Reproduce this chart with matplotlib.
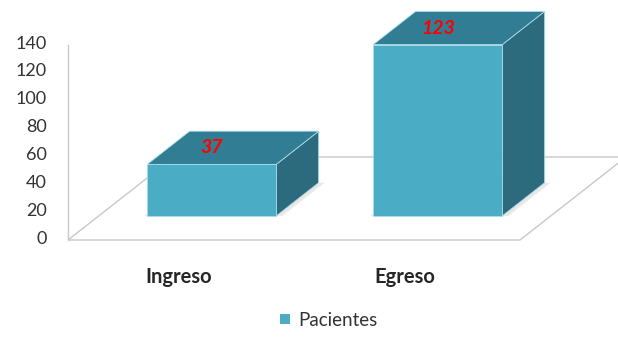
import numpy as np
import matplotlib.pyplot as plt
from matplotlib.patches import Polygon, Patch

plt.rcParams['font.family'] = ['Lato', 'DejaVu Sans']

categorias = ['Ingreso', 'Egreso']
pacientes = [37, 123]
ticks_y = [0, 20, 40, 60, 80, 100, 120, 140]
serie = 'Pacientes'

# geometria de la vista oblicua (x en px, y en unidades del eje)
px_por_unidad = 195 / 140
x0, x1 = 68, 520            # borde frontal del piso
prof_dx = 106
prof_dy = 83 / px_por_unidad
z_ini, z_fin = 0.29, 0.69   # profundidad ocupada por las barras
ancho_barra = 129

c_frente = '#4bacc6'
c_techo = '#317d93'
c_lado = '#2c6b7e'
c_borde = '#a9dbe8'
c_linea = '#c8c8c8'


def proy(x, z, v):
    return (x + z * prof_dx, v + z * prof_dy)


fig = plt.figure(figsize=(6.18, 3.38), dpi=100)
ax = fig.add_axes([0, 0, 1, 1])
ax.set_xlim(0, 618)
ax.set_ylim(-(338 - 240) / px_por_unidad, 240 / px_por_unidad)
ax.axis('off')

# piso y eje vertical
piso = [proy(x0, 0, 0), proy(x1, 0, 0), proy(x1, 1, 0), proy(x0, 1, 0)]
ax.add_patch(Polygon(piso, closed=True, fill=False, edgecolor=c_linea, lw=1.0, zorder=1))
ax.plot([x0, x0], [0, ticks_y[-1]], color=c_linea, lw=1.0, zorder=1)

for t in ticks_y:
    ax.text(47, t + 1, str(t), ha='right', va='center', fontsize=13, color='#333333')

ancho_cat = (x1 - x0) / len(categorias)
for i, (cat, val) in enumerate(zip(categorias, pacientes)):
    centro = x0 + ancho_cat * (i + 0.5)
    ax.text(centro - 2, -26.6, cat, ha='center', va='center', fontsize=14.5,
            fontweight='bold', color='#262626')

    xa = centro - ancho_barra / 2
    xb = centro + ancho_barra / 2
    # sombra suave en la base
    sombra = [proy(xa - 3, z_ini, 0), proy(xb + 6, z_ini, 0),
              proy(xb + 6, z_fin, 0), proy(xa - 3, z_fin, 0)]
    ax.add_patch(Polygon(sombra, closed=True, facecolor='#d8d0cc', edgecolor='none',
                         alpha=0.5, zorder=2))

    frente = [proy(xa, z_ini, 0), proy(xb, z_ini, 0), proy(xb, z_ini, val), proy(xa, z_ini, val)]
    techo = [proy(xa, z_ini, val), proy(xb, z_ini, val), proy(xb, z_fin, val), proy(xa, z_fin, val)]
    lado = [proy(xb, z_ini, 0), proy(xb, z_fin, 0), proy(xb, z_fin, val), proy(xb, z_ini, val)]
    ax.add_patch(Polygon(lado, closed=True, facecolor=c_lado, edgecolor=c_borde, lw=0.6, zorder=3))
    ax.add_patch(Polygon(techo, closed=True, facecolor=c_techo, edgecolor=c_borde, lw=0.6, zorder=3))
    ax.add_patch(Polygon(frente, closed=True, facecolor=c_frente, edgecolor=c_borde, lw=0.6, zorder=4))

    xt, yt = proy(centro, z_ini, val)
    ax.text(xt, yt + prof_dy * (z_fin - z_ini) / 2, str(val), ha='center', va='center',
            fontsize=14, fontweight='bold', fontstyle='italic', color='#ff0000', zorder=5)

ax.legend(handles=[Patch(facecolor=c_frente, edgecolor='none', label=serie)],
          loc='center', bbox_to_anchor=(329 / 618, 1 - 320 / 338), frameon=False,
          fontsize=13.5, handlelength=0.5, handleheight=0.5, handletextpad=0.45,
          labelcolor='#333333')

fig.savefig('out.png', dpi=100)
